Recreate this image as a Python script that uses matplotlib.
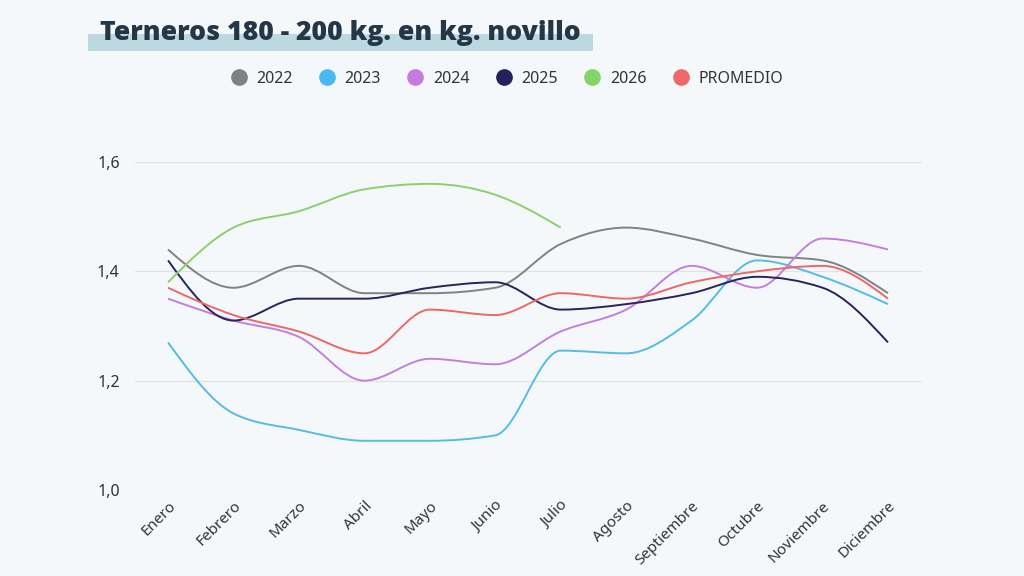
import numpy as np
import matplotlib
matplotlib.use("Agg")
import matplotlib.pyplot as plt
from matplotlib.path import Path
from matplotlib.patches import PathPatch, Rectangle
from matplotlib.lines import Line2D

plt.rcParams['font.family'] = ['Noto Sans', 'DejaVu Sans']

months = ["Enero", "Febrero", "Marzo", "Abril", "Mayo", "Junio", "Julio",
          "Agosto", "Septiembre", "Octubre", "Noviembre", "Diciembre"]
y2022 = [1.44, 1.37, 1.41, 1.36, 1.36, 1.37, 1.45, 1.48, 1.46, 1.43, 1.42, 1.36]
y2023 = [1.27, 1.14, 1.11, 1.09, 1.09, 1.10, 1.255, 1.25, 1.31, 1.42, 1.39, 1.34]
y2024 = [1.35, 1.31, 1.28, 1.20, 1.24, 1.23, 1.29, 1.33, 1.41, 1.37, 1.46, 1.44]
y2025 = [1.42, 1.31, 1.35, 1.35, 1.37, 1.38, 1.33, 1.34, 1.36, 1.39, 1.37, 1.27]
y2026 = [1.38, 1.48, 1.51, 1.55, 1.56, 1.54, 1.48]
promedio = [1.37, 1.32, 1.29, 1.25, 1.33, 1.32, 1.36, 1.35, 1.38, 1.40, 1.41, 1.35]
series_names = ["2022", "2023", "2024", "2025", "2026", "PROMEDIO"]
y_ticks = [1.0, 1.2, 1.4, 1.6]
y_tick_labels = ["1,0", "1,2", "1,4", "1,6"]
title = "Terneros 180 - 200 kg. en kg. novillo"

colors = ["#808181", "#55bde0", "#c47fdc", "#26245a", "#8bd16b", "#ec6866"]
legend_colors = ["#7f8080", "#4ab9f1", "#c57ae0", "#25215c", "#84d468", "#ef6767"]
bg = "#f5f8fa"


def monotone_path(x, y):
    x = np.asarray(x, float)
    y = np.asarray(y, float)
    n = len(x)
    h = np.diff(x)
    s = np.diff(y) / h
    t = np.zeros(n)
    for i in range(1, n - 1):
        h0, h1 = h[i - 1], h[i]
        s0, s1 = s[i - 1], s[i]
        p = (s0 * h1 + s1 * h0) / (h0 + h1)
        t[i] = (np.sign(s0) + np.sign(s1)) * min(abs(s0), abs(s1), 0.5 * abs(p))
    t[0] = (3 * s[0] - t[1]) / 2
    t[-1] = (3 * s[-1] - t[-2]) / 2
    verts = [(x[0], y[0])]
    codes = [Path.MOVETO]
    for i in range(n - 1):
        d = h[i] / 3
        verts += [(x[i] + d, y[i] + d * t[i]),
                  (x[i + 1] - d, y[i + 1] - d * t[i + 1]),
                  (x[i + 1], y[i + 1])]
        codes += [Path.CURVE4] * 3
    return Path(verts, codes)


fig = plt.figure(figsize=(10.24, 5.76), dpi=100, facecolor=bg)
ax = fig.add_axes([135 / 1024, 1 - 490 / 576, (922 - 135) / 1024, (490 - 162) / 576])
ax.set_facecolor(bg)

all_series = [y2022, y2023, y2024, y2025, y2026, promedio]
order = [1, 2, 0, 4, 5, 3]
for k in order:
    ys = all_series[k]
    xs = np.arange(len(ys))
    patch = PathPatch(monotone_path(xs, ys), facecolor="none", edgecolor=colors[k],
                      lw=1.4, clip_on=False, zorder=3 + k * 0.1)
    ax.add_patch(patch)

ax.set_xlim(-0.505, 11.52)
ax.set_ylim(1.0, 1.6)
ax.set_yticks(y_ticks)
ax.set_yticklabels(y_tick_labels)
ax.set_xticks(np.arange(len(months)))
ax.set_xticklabels(months, rotation=45, ha="right", rotation_mode="anchor")
ax.tick_params(axis="both", length=0, colors="#333333", labelsize=11)
ax.tick_params(axis="y", pad=11, labelsize=11.5)
ax.tick_params(axis="x", pad=6)
ax.grid(axis="y", color="#dfe3e6", lw=0.9)
ax.set_axisbelow(True)
for sp in ax.spines.values():
    sp.set_visible(False)

# legend
handles = [Line2D([], [], ls="none", marker="o", markersize=11, markerfacecolor=c,
                  markeredgecolor=c) for c in legend_colors]
fig.legend(handles, series_names, loc="center", bbox_to_anchor=(0.495, 1 - 79 / 576),
           ncol=6, frameon=False, fontsize=11.5, handlelength=1.0, handletextpad=0.6,
           columnspacing=1.65, labelcolor="#333333")

# title with highlight band
fig.patches.append(Rectangle((88 / 1024, 1 - 51 / 576), (593 - 88) / 1024, 17 / 576,
                             transform=fig.transFigure, facecolor="#bcd9e2",
                             edgecolor="none", zorder=0))
fig.text(100 / 1024, 1 - 33 / 576, title, fontsize=19.2, fontweight="heavy",
         family=["Open Sans", "DejaVu Sans"], color="#263646", va="center", ha="left",
         zorder=2)

fig.savefig("out.png", dpi=100, facecolor=bg)
